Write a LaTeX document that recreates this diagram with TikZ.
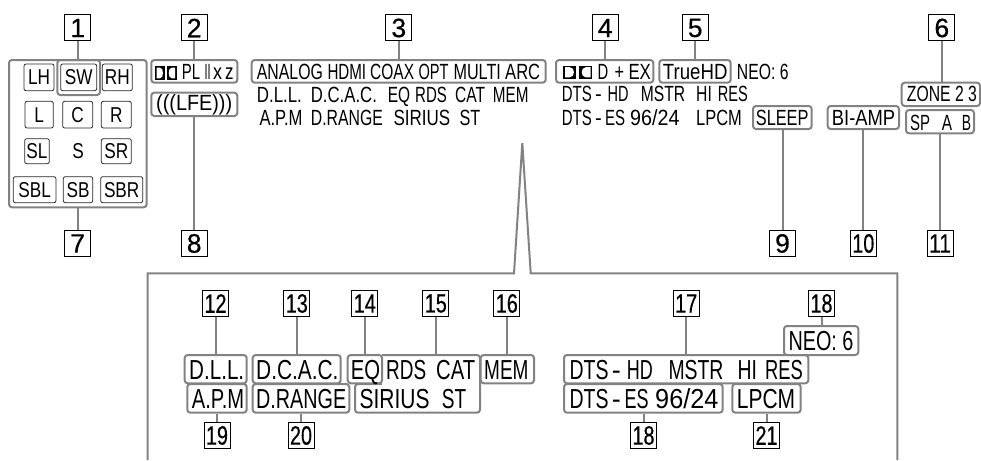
\documentclass[tikz,border=0pt]{standalone}
\usepackage{fontspec}
\usepackage{graphicx}
\usetikzlibrary{fit}
\setmainfont{Liberation Sans}
\newfontfamily\narfont[FakeStretch=.8]{Liberation Sans}
\newfontfamily\numfont[FakeBold=0.5]{Liberation Sans}
\definecolor{lead}{HTML}{828282}
\newcommand\topfont{\fontsize{22}{23}\selectfont}
\newcommand\botfont{\fontsize{27.5}{28}\selectfont}
\newcommand\curfont{\topfont}
\tikzset{
  numbox/.style={draw=black,line width=1pt,fill=white,inner sep=0pt,minimum width=26pt,minimum height=26pt,font=\numfont\fontsize{26.5}{27}\selectfont},
  gbox/.style={draw=lead,line width=2pt,rounded corners=3pt,inner sep=0pt},
  spkbox/.style={draw=black!85,line width=.8pt,rounded corners=2pt,inner sep=0pt},
  spktext/.style={inner sep=0pt,font=\narfont\fontsize{21.5}{22}\selectfont},
  conn/.style={draw=lead,line width=2pt},
}
% name, x1, x2, baseline y, text
\newcommand\lcd[5]{%
  \pgfmathsetlengthmacro\lcdw{(#3-#2)*1pt}%
  \node[anchor=base west,inner sep=0pt] (#1) at (#2,#4) {\resizebox{\lcdw}{\height}{\curfont #5}};}
% name, x1, y1, x2, y2
\newcommand\gb[5]{\node[gbox,fit={(#2,#3)(#4,#5)}] (#1) {};}
% name, x1, y1, x2, y2, text
\newcommand\spk[6]{\node[spkbox,fit={(#2,#3)(#4,#5)}] (#1) {};
  \node[spktext] (#1t) at (#1.center) {#6};}
% name, centre x, centre y, text
\newcommand\num[4]{\node[numbox] (#1) at (#2,#3) {#4};}
\newcommand\nn[1]{\resizebox{22pt}{\height}{#1}}
% logo: left x, top y, width of a unit, height, gap
\newcommand\ddlogo[5]{%
  \fill[black] (#1,#2) rectangle ++(#3,#4);
  \fill[white] (#1+1.7,#2+1.7) -- (#1+#3*.5,#2+1.7) .. controls (#1+#3-1,#2+1.7) and (#1+#3-1,#2+#4-1.7) .. (#1+#3*.5,#2+#4-1.7) -- (#1+1.7,#2+#4-1.7) -- cycle;
  \fill[black] (#1+#3+#5,#2) rectangle ++(#3,#4);
  \fill[white] (#1+#3+#5+#3-1.7,#2+1.7) -- (#1+#3+#5+#3*.5,#2+1.7) .. controls (#1+#3+#5+1,#2+1.7) and (#1+#3+#5+1,#2+#4-1.7) .. (#1+#3+#5+#3*.5,#2+#4-1.7) -- (#1+#3+#5+#3-1.7,#2+#4-1.7) -- cycle;
}
\begin{document}
\begin{tikzpicture}[x=1pt,y=-1pt]
\useasboundingbox (0,0) rectangle (981,460);
% enlarged panel frame
\draw[conn,line join=miter] (147.7,460) -- (147.7,273.3) -- (514,273.3) -- (522.3,143) -- (530.7,273.3) -- (897.3,273.3) -- (897.3,460);

% top number boxes
\num{n1}{77.7}{28}{1}
\num{n2}{194.2}{28}{2}
\num{n3}{398.8}{28}{3}
\num{n4}{605.2}{28}{4}
\num{n5}{695.2}{28}{5}
\num{n6}{941.8}{28}{6}
\num{n7}{77.7}{243.5}{7}
\num{n8}{194.2}{243.5}{8}
\num{n9}{782.5}{243.5}{9}
\num{n10}{863.3}{243.5}{\nn{10}}
\num{n11}{940}{243.5}{\nn{11}}
% panel number boxes
\num{n12}{215.5}{303.5}{\nn{12}}
\num{n13}{296.8}{303.5}{\nn{13}}
\num{n14}{364.8}{303.5}{\nn{14}}
\num{n15}{435.8}{303.5}{\nn{15}}
\num{n16}{506.8}{303.5}{\nn{16}}
\num{n17}{686.2}{303.5}{\nn{17}}
\num{n18a}{821.5}{303.5}{\nn{18}}
\num{n19}{217}{435.5}{\nn{19}}
\num{n20}{301}{435.5}{\nn{20}}
\num{n18b}{643.5}{435.5}{\nn{18}}
\num{n21}{766.5}{435.5}{\nn{21}}

% top grey boxes
\gb{g1}{9}{60}{146.7}{207.3}
\gb{g1sw}{57.3}{60}{100}{95}
\gb{g2}{151.3}{60}{237.3}{82.7}
\gb{g8}{151.3}{92.7}{237.3}{116}
\gb{g3}{251.7}{60}{545.7}{82.7}
\gb{g4}{556}{60}{653.3}{82.7}
\gb{g5}{659.3}{60}{730.7}{82.7}
\gb{g6}{901.7}{82.7}{980}{106}
\gb{g9}{753}{106}{811.7}{129}
\gb{g10}{827.7}{106}{899}{129}
\gb{g11}{906}{110}{974}{133.3}
% panel grey boxes
\gb{g12}{184.7}{355}{246.7}{383.3}
\gb{g19}{187.3}{384}{246.7}{412.7}
\gb{g13}{252.7}{355}{340.7}{383.3}
\gb{g20}{252.7}{384}{349.3}{412.7}
\gb{g14}{347.7}{355}{382}{383.3}
\gb{g16}{480.7}{355}{534}{383.3}
\gb{g17}{564}{355}{808.3}{383.3}
\gb{g18a}{784}{326}{858.3}{355}
\gb{g18b}{564}{384}{722.7}{412.7}
\gb{g21}{732.3}{384}{800.7}{412.7}
\draw[conn,rounded corners=3pt] (382,355) -- (480,355) -- (480,412.7) -- (355,412.7) -- (355,384) -- (382,384);
\coordinate (g15) at (435.8,355);

% connectors
\draw[conn] (n1.south) -- (n1.south |- g1.north);
\draw[conn] (n2.south) -- (n2.south |- g2.north);
\draw[conn] (n3.south) -- (n3.south |- g3.north);
\draw[conn] (n4.south) -- (n4.south |- g4.north);
\draw[conn] (n5.south) -- (n5.south |- g5.north);
\draw[conn] (n6.south) -- (n6.south |- g6.north);
\draw[conn] (n7.north) -- (n7.north |- g1.south);
\draw[conn] (n8.north) -- (n8.north |- g8.south);
\draw[conn] (n9.north) -- (n9.north |- g9.south);
\draw[conn] (n10.north) -- (n10.north |- g10.south);
\draw[conn] (n11.north) -- (n11.north |- g11.south);
\draw[conn] (n12.south) -- (n12.south |- g12.north);
\draw[conn] (n13.south) -- (n13.south |- g13.north);
\draw[conn] (n14.south) -- (n14.south |- g14.north);
\draw[conn] (n15.south) -- (g15);
\draw[conn] (n16.south) -- (n16.south |- g16.north);
\draw[conn] (n17.south) -- (n17.south |- g17.north);
\draw[conn] (n18a.south) -- (n18a.south |- g18a.north);
\draw[conn] (n19.north) -- (n19.north |- g19.south);
\draw[conn] (n20.north) -- (n20.north |- g20.south);
\draw[conn] (n18b.north) -- (n18b.north |- g18b.south);
\draw[conn] (n21.north) -- (n21.north |- g21.south);

% speaker group
\spk{lh}{24}{64}{54}{90.7}{LH}
\spk{sw}{60.7}{64}{96.7}{90.7}{SW}
\spk{rh}{102.3}{64}{132.3}{90.7}{RH}
\spk{l}{25}{101.3}{53.3}{128}{L}
\spk{c}{62.7}{101.3}{92.7}{128}{C}
\spk{r}{101.3}{101.3}{131.3}{128}{R}
\spk{sl}{24.7}{138.7}{49.3}{163.7}{SL}
\node[spktext] (s) at (78,151.2) {S};
\spk{sr}{101.3}{138.7}{131.3}{163.7}{SR}
\spk{sbl}{13.3}{176.7}{56}{202.7}{SBL}
\spk{sb}{63.3}{176.7}{92.7}{202.7}{SB}
\spk{sbr}{100.7}{176.7}{142.7}{202.7}{SBR}

% top text
\ddlogo{155}{66}{10}{14}{1.7}
\lcd{t1}{181.7}{200}{79.5}{PL}
\lcd{t2}{204.5}{210.5}{79.5}{II}
\lcd{t3}{213}{222}{79.5}{x}
\lcd{t4}{225}{233.5}{79.5}{z}
\lcd{t5}{156}{232}{110.5}{(((LFE)))}
\lcd{t6}{256.7}{322.7}{79.5}{ANALOG}
\lcd{t7}{327.3}{366}{79.5}{HDMI}
\lcd{t8}{370}{414}{79.5}{COAX}
\lcd{t9}{418.3}{448.3}{79.5}{OPT}
\lcd{t10}{453.3}{500.7}{79.5}{MULTI}
\lcd{t11}{505}{540}{79.5}{ARC}
\lcd{t12}{256.7}{301.7}{102.5}{D.L.L.}
\lcd{t13}{310.7}{376.7}{102.5}{D.C.A.C.}
\lcd{t14}{387.7}{410}{102.5}{EQ}
\lcd{t15}{415}{446.7}{102.5}{RDS}
\lcd{t16}{455}{485}{102.5}{CAT}
\lcd{t17}{492.7}{528.3}{102.5}{MEM}
\lcd{t18}{259.3}{302.3}{125}{A.P.M}
\lcd{t19}{310.7}{382.7}{125}{D.RANGE}
\lcd{t20}{393.3}{450}{125}{SIRIUS}
\lcd{t21}{459.3}{480}{125}{ST}
\ddlogo{563.3}{65.5}{13}{13.5}{3}
\lcd{t22}{597.3}{608}{79.5}{D}
\lcd{t23}{614.5}{624}{79.5}{+}
\lcd{t24}{628.3}{650.7}{79.5}{EX}
\lcd{t25}{662.7}{727.3}{79.5}{TrueHD}
\lcd{t26}{736.7}{788.3}{79.5}{NEO: 6}
\lcd{t27}{561.7}{591.7}{101.7}{DTS}
\lcd{t28}{595}{601.7}{101.7}{-}
\lcd{t29}{607.3}{628.3}{101.7}{HD}
\lcd{t30}{640.7}{685}{101.7}{MSTR}
\lcd{t31}{696}{711.7}{101.7}{HI}
\lcd{t32}{717.7}{747.7}{101.7}{RES}
\lcd{t33}{561.7}{591.7}{125}{DTS}
\lcd{t34}{595}{601.7}{125}{-}
\lcd{t35}{605}{625}{125}{ES}
\lcd{t36}{630}{679.3}{125}{96/24}
\lcd{t37}{696}{741.7}{125}{LPCM}
\lcd{t38}{755.7}{808.3}{125}{SLEEP}
\lcd{t39}{831.7}{895}{125}{BI-AMP}
\lcd{t40}{906.7}{976.7}{101.7}{ZONE 2 3}
\lcd{t41}{910}{930}{130}{SP}
\lcd{t42}{941.7}{952}{130}{A}
\lcd{t43}{961.7}{971}{130}{B}

% panel text
\renewcommand\curfont{\botfont}
\lcd{p1}{189}{244}{379}{D.L.L.}
\lcd{p2}{191.7}{244}{408.3}{A.P.M}
\lcd{p3}{256}{338.3}{379}{D.C.A.C.}
\lcd{p4}{256}{346}{408.3}{D.RANGE}
\lcd{p5}{350.7}{380}{379}{EQ}
\lcd{p6}{386}{426}{379}{RDS}
\lcd{p7}{436}{475}{379}{CAT}
\lcd{p8}{359.3}{429.3}{408.3}{SIRIUS}
\lcd{p9}{441.7}{466}{408.3}{ST}
\lcd{p10}{484}{528.3}{379}{MEM}
\lcd{p11}{569.3}{608.3}{379}{DTS}
\lcd{p12}{611.7}{620.7}{379}{-}
\lcd{p13}{626.7}{652.7}{379}{HD}
\lcd{p14}{668.3}{723.3}{379}{MSTR}
\lcd{p15}{737.3}{756.7}{379}{HI}
\lcd{p16}{765}{802.7}{379}{RES}
\lcd{p17}{788.3}{853.3}{350.7}{NEO: 6}
\lcd{p18}{569.3}{608.3}{408.3}{DTS}
\lcd{p19}{611.7}{620.7}{408.3}{-}
\lcd{p20}{624.3}{648.3}{408.3}{ES}
\lcd{p21}{655}{718.3}{408.3}{96/24}
\lcd{p22}{736.7}{795}{408.3}{LPCM}
\end{tikzpicture}
\end{document}
